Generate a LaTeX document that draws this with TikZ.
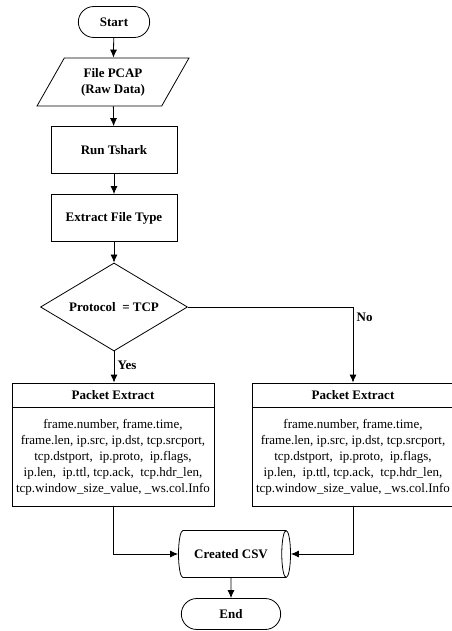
\documentclass[tikz,border=0pt]{standalone}
\usepackage{fontspec}
\setmainfont{Liberation Serif}
\usepackage{tikz}
\usetikzlibrary{positioning}
\usetikzlibrary{shapes,arrows.meta}

\begin{document}
\begin{tikzpicture}[x=1pt,y=-1pt,font=\fontsize{13}{15.8}\selectfont]
\tikzstyle{term}=[rounded rectangle, draw=black, line width=0.8pt, minimum height=31pt, font=\fontsize{13}{15.8}\selectfont\bfseries]
\tikzstyle{io}=[trapezium, trapezium left angle=60, trapezium right angle=120, trapezium stretches=true, draw=black, line width=0.8pt, minimum width=152pt, minimum height=48pt, align=center, font=\fontsize{13}{15.8}\selectfont\bfseries]
\tikzstyle{process}=[rectangle, draw=black, line width=0.8pt, minimum width=126pt, minimum height=47pt, font=\fontsize{13}{15.8}\selectfont\bfseries]
\tikzstyle{decision}=[diamond, aspect=1.67, draw=black, line width=0.8pt, minimum width=147pt, minimum height=88pt, inner sep=0pt, font=\fontsize{13}{15.8}\selectfont\bfseries]
\tikzstyle{headbox}=[rectangle, draw=black, line width=0.8pt, minimum width=202pt, minimum height=24pt, font=\fontsize{13}{15.8}\selectfont\bfseries]
\tikzstyle{bodybox}=[rectangle, draw=black, line width=0.8pt, minimum width=202pt, minimum height=99pt, inner sep=1pt, align=center]
\tikzstyle{store}=[cylinder, shape border rotate=0, shape aspect=0.55, draw=black, line width=0.8pt, minimum width=47pt, minimum height=112pt, font=\fontsize{13}{15.8}\selectfont\bfseries]
\tikzstyle{connect}=[-{Latex[length=8pt,width=7pt]}, line width=0.8pt]
\useasboundingbox (0,0) rectangle (451,631);
	\node[term, minimum width=78pt] (start) at (114,22) {Start};
	\node[io] (pcap) at (113,82) {File PCAP\\(Raw Data)};
	\node[process] (tshark) at (114,150) {Run Tshark};
	\node[process] (ftype) at (114,218) {Extract File Type};
	\node[decision] (proto) at (114,307) {Protocol\ \ = TCP};
	\node[headbox] (pe1head) at (113,395) {Packet Extract};
	\node[bodybox, below=0pt of pe1head] (pe1body) {frame.number, frame.time,\\frame.len, ip.src, ip.dst, tcp.srcport,\\tcp.dstport,\ \ ip.proto,\ \ ip.flags,\\ip.len,\ \ ip.ttl, tcp.ack,\ \ tcp.hdr\_len,\\tcp.window\_size\_value, \_ws.col.Info};
	\node[headbox] (pe2head) at (353,395) {Packet Extract};
	\node[bodybox, below=0pt of pe2head] (pe2body) {frame.number, frame.time,\\frame.len, ip.src, ip.dst, tcp.srcport,\\tcp.dstport,\ \ ip.proto,\ \ ip.flags,\\ip.len,\ \ ip.ttl, tcp.ack,\ \ tcp.hdr\_len,\\tcp.window\_size\_value, \_ws.col.Info};
	\node[store] (csv) at (231,554) {Created CSV};
	\node[term, minimum width=106pt] (end) at (231,614) {End};

	\path
		(start) edge [connect] (pcap)
		(pcap) edge [connect] (tshark)
		(tshark) edge [connect] (ftype)
		(ftype) edge [connect] (proto)
		(proto.south) edge [connect] node[right, pos=0.45, font=\fontsize{13}{15.8}\selectfont\bfseries] {Yes} (proto.south |- pe1head.north)
		(csv) edge [connect] (end);
	\draw[connect] (proto.east) -| node[right, pos=0.57, font=\fontsize{13}{15.8}\selectfont\bfseries] {No} (pe2head.north);
	\draw[connect] (pe1body.south) |- (csv.west);
	\draw[connect] (pe2body.south) |- (csv.east);
\end{tikzpicture}
\end{document}
